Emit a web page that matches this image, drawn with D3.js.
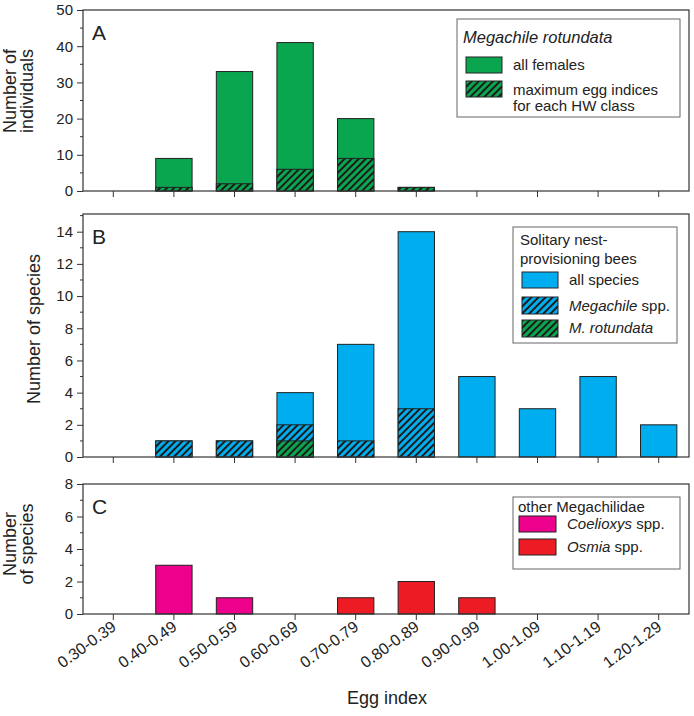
<!DOCTYPE html>
<html>
<head>
<meta charset="utf-8">
<script src="https://cdn.jsdelivr.net/npm/d3@7"></script>
<style>
  body { margin: 0; background: #fff; }
  svg text { font-family: "Liberation Sans", Arial, sans-serif; fill: #222; }
</style>
</head>
<body>
<svg id="chart" width="694" height="716"></svg>
<script>
// egg index classes (x axis)
const classes = ['0.30-0.39', '0.40-0.49', '0.50-0.59', '0.60-0.69', '0.70-0.79',
                 '0.80-0.89', '0.90-0.99', '1.00-1.09', '1.10-1.19', '1.20-1.29'];

// panel A: Megachile rotundata, number of individuals
const allFemales = [0, 9, 33, 41, 20, 1, 0, 0, 0, 0];
const maxEggIdx = [0, 1, 2, 6, 9, 1, 0, 0, 0, 0];

// panel B: solitary nest-provisioning bees, number of species
const allSpecies = [0, 1, 1, 4, 7, 14, 5, 3, 5, 2];
const megachileSpp = [0, 1, 1, 2, 1, 3, 0, 0, 0, 0];
const mRotundata = [0, 0, 0, 1, 0, 0, 0, 0, 0, 0];

// panel C: other Megachilidae
const coelioxys = [0, 3, 1, 0, 0, 0, 0, 0, 0, 0];
const osmia = [0, 0, 0, 0, 1, 2, 1, 0, 0, 0];

const green = '#0aa64f', blue = '#00aeef', pink = '#ec008c', red = '#ed1c24';
const ink = '#222';

const svg = d3.select('#chart');
const left = 83, right = 689;

const x = d3.scaleBand()
  .domain(classes)
  .range([left, right])
  .paddingInner(0.4)
  .paddingOuter(0.2);

//hatch patterns - dark diagonal stripes over the fill colour
const defs = svg.append('defs');
function hatch(id, col) {
  const p = defs.append('pattern')
    .attr('id', id)
    .attr('patternUnits', 'userSpaceOnUse')
    .attr('width', 5).attr('height', 5)
    .attr('patternTransform', 'rotate(45)');
  p.append('rect').attr('width', 5).attr('height', 5).attr('fill', col);
  p.append('line').attr('x1', 1).attr('y1', 0).attr('x2', 1).attr('y2', 5)
    .attr('stroke', '#1b1b1b').attr('stroke-width', 2);
}
hatch('hGreen', green);
hatch('hBlue', blue);

//one panel = frame + axes + letter + y title
function panel(cfg) {
  const y = d3.scaleLinear().domain([0, cfg.max]).range([cfg.bottom, cfg.top]);
  const g = svg.append('g');

  //bars (overlaid, all from zero)
  cfg.series.forEach(s => {
    g.selectAll(null)
      .data(classes.map((c, i) => ({c, v: s.values[i]})).filter(d => d.v > 0))
      .enter().append('rect')
      .attr('x', d => x(d.c))
      .attr('y', d => y(d.v))
      .attr('width', x.bandwidth())
      .attr('height', d => y(0) - y(d.v))
      .attr('fill', s.fill)
      .attr('stroke', ink)
      .attr('stroke-width', 1);
  });

  //frame
  g.append('rect')
    .attr('x', left).attr('y', cfg.top)
    .attr('width', right - left).attr('height', cfg.bottom - cfg.top)
    .attr('fill', 'none').attr('stroke', '#333').attr('stroke-width', 1.2);

  //y axis - major ticks with labels, minor without
  const yAx = g.append('g')
    .attr('transform', `translate(${left},0)`)
    .call(d3.axisLeft(y).tickValues(cfg.ticks).tickSize(6).tickSizeOuter(0).tickPadding(4));
  yAx.select('.domain').remove();
  yAx.selectAll('text').style('font-size', '15px').attr('fill', ink);
  yAx.selectAll('line').attr('stroke', '#333');
  g.selectAll(null).data(cfg.minor).enter().append('line')
    .attr('x1', left - 3).attr('x2', left)
    .attr('y1', d => y(d)).attr('y2', d => y(d))
    .attr('stroke', '#333');

  //x ticks
  const xAx = g.append('g')
    .attr('transform', `translate(0,${cfg.bottom})`)
    .call(d3.axisBottom(x).tickSize(6).tickSizeOuter(0).tickFormat(''));
  xAx.select('.domain').remove();
  xAx.selectAll('line').attr('stroke', '#333');

  //panel letter
  g.append('text')
    .attr('x', 92).attr('y', cfg.top + 30)
    .style('font-size', '21px')
    .text(cfg.letter);

  //y title, one or two lines
  const t = g.append('text')
    .attr('transform', `translate(${cfg.titleX},${cfg.titleY}) rotate(-90)`)
    .style('text-anchor', 'middle')
    .style('font-size', '18px');
  cfg.title.forEach((line, i) => {
    t.append('tspan').attr('x', 0).attr('dy', i === 0 ? 0 : 17).text(line);
  });
  return {g, y};
}

panel({
  letter: 'A', top: 10, bottom: 191, max: 50,
  ticks: [0, 10, 20, 30, 40, 50], minor: [5, 15, 25, 35, 45],
  title: ['Number of', 'individuals'], titleX: 16, titleY: 91,
  series: [{values: allFemales, fill: green}, {values: maxEggIdx, fill: 'url(#hGreen)'}]
});

panel({
  letter: 'B', top: 214, bottom: 457, max: 15.1,
  ticks: [0, 2, 4, 6, 8, 10, 12, 14], minor: [1, 3, 5, 7, 9, 11, 13, 15],
  title: ['Number of species'], titleX: 40, titleY: 329,
  series: [{values: allSpecies, fill: blue}, {values: megachileSpp, fill: 'url(#hBlue)'},
           {values: mRotundata, fill: 'url(#hGreen)'}]
});

panel({
  letter: 'C', top: 484, bottom: 614, max: 8,
  ticks: [0, 2, 4, 6, 8], minor: [1, 3, 5, 7],
  title: ['Number', 'of species'], titleX: 16, titleY: 544,
  series: [{values: coelioxys, fill: pink}, {values: osmia, fill: red}]
});

//rotated category labels under panel C
svg.append('g').selectAll('text')
  .data(classes)
  .enter().append('text')
  .attr('transform', d => `translate(${x(d) + x.bandwidth() / 2 + 4},${629}) rotate(-36)`)
  .style('text-anchor', 'end')
  .style('font-size', '16px')
  .text(d => d);

svg.append('text')
  .attr('x', 387).attr('y', 704)
  .style('text-anchor', 'middle')
  .style('font-size', '18px')
  .text('Egg index');

//legends
function legendBox(x0, y0, w, h) {
  svg.append('rect').attr('x', x0).attr('y', y0).attr('width', w).attr('height', h)
    .attr('fill', '#fff').attr('stroke', '#666').attr('stroke-width', 1);
}
function swatch(x0, y0, w, h, fill) {
  svg.append('rect').attr('x', x0).attr('y', y0).attr('width', w).attr('height', h)
    .attr('fill', fill).attr('stroke', ink).attr('stroke-width', 1);
}
function label(x0, y0, parts, size) {
  const t = svg.append('text').attr('x', x0).attr('y', y0).style('font-size', (size || 15) + 'px');
  parts.forEach(p => t.append('tspan').style('font-style', p.it ? 'italic' : 'normal').text(p.s));
}

//A
legendBox(457, 19, 223, 98);
label(463, 43, [{s: 'Megachile rotundata', it: true}], 16.5);
swatch(466, 57, 36, 16, green);
label(513, 70, [{s: 'all females'}]);
swatch(466, 81, 36, 16, 'url(#hGreen)');
label(513, 95, [{s: 'maximum egg indices'}]);
label(513, 111, [{s: 'for each HW class'}]);

//B
legendBox(513, 227, 164, 116);
label(520, 245, [{s: 'Solitary nest-'}]);
label(520, 264, [{s: 'provisioning bees'}]);
swatch(522, 272, 36, 16, blue);
label(569, 285, [{s: 'all species'}]);
swatch(522, 297, 36, 17, 'url(#hBlue)');
label(569, 311, [{s: 'Megachile', it: true}, {s: ' spp.'}]);
swatch(522, 320, 36, 17, 'url(#hGreen)');
label(569, 333, [{s: 'M. rotundata', it: true}]);

//C
legendBox(513, 497, 167, 72);
label(518, 512, [{s: 'other Megachilidae'}]);
swatch(519, 516, 37, 16, pink);
label(567, 529, [{s: 'Coelioxys', it: true}, {s: ' spp.'}]);
swatch(519, 539, 37, 16, red);
label(567, 552, [{s: 'Osmia', it: true}, {s: ' spp.'}]);
</script>
</body>
</html>
